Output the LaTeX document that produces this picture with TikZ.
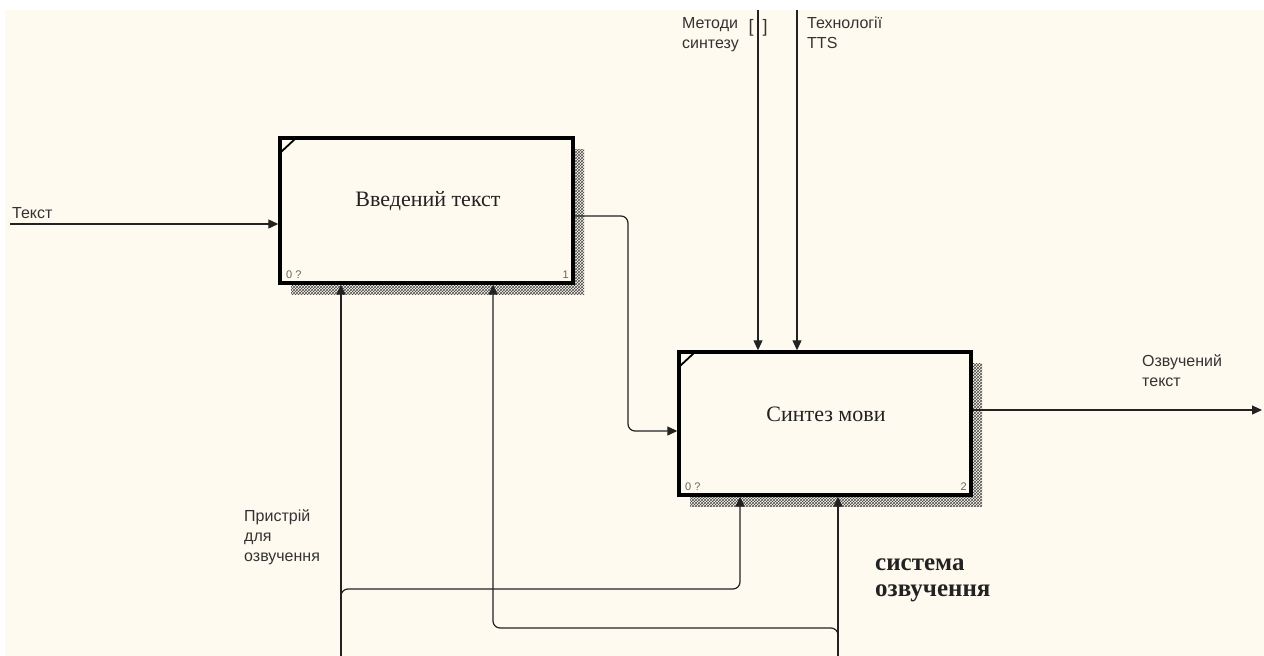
\documentclass[tikz,border=0pt]{standalone}
\usepackage{fontspec}
\setmainfont{Liberation Serif}
\setsansfont{Liberation Sans}
\usetikzlibrary{patterns,arrows.meta}
\definecolor{cream}{HTML}{FFFAEF}
\definecolor{ink}{HTML}{222222}
\begin{document}
\begin{tikzpicture}[x=1pt,y=-1pt,
  box/.style={draw=black, line width=3.4pt, fill=cream, inner sep=0pt},
  shadow/.style={pattern=crosshatch, pattern color=black!70},
  conn/.style={draw=ink, line width=1.2pt, rounded corners=7pt},
  arr/.style={-{Triangle[length=10pt,width=9pt]}},
  lbl/.style={font=\sffamily\fontsize{16}{20}\selectfont, text=black!80, align=left, inner sep=0pt, anchor=north west},
  title/.style={font=\fontsize{22}{24}\selectfont, text=ink, inner sep=0pt},
  num/.style={font=\sffamily\fontsize{11}{11}\selectfont, text=black!60, inner sep=0pt},
]
\useasboundingbox (0,0) rectangle (1264,656);
\fill[white] (0,0) rectangle (1264,656);
\fill[cream] (5,10) rectangle (1264,656);

% shadows
\fill[shadow] (291,149) rectangle (584,294);
\fill[shadow] (690,363) rectangle (982,506);

% boxes
\node[box, minimum width=293pt, minimum height=145pt] (b1) at (426.5,210.5) {};
\node[box, minimum width=292pt, minimum height=143pt] (b2) at (825,423.5) {};
\draw[line width=1.8pt] (281,152) -- (295,139);
\draw[line width=1.8pt] (680,366) -- (694,353);

\node[title] (t1) at (428,201) {Введений текст};
\node[title] (t2) at (826,414) {Синтез мови};
\node[num, anchor=south west] (n1a) at (286,279) {0 ?};
\node[num, anchor=south east] (n1b) at (569,279) {1};
\node[num, anchor=south west] (n2a) at (685,491) {0 ?};
\node[num, anchor=south east] (n2b) at (967,491) {2};

% input
\coordinate (inL) at (10,224);
\draw[conn,arr] (inL) -- (b1.west |- inL);
\node[lbl, anchor=south west] (lText) at (12,219) {Текст};

% b1 -> b2
\coordinate (j1) at (628,216);
\coordinate (j2) at (628,431);
\draw[conn,arr] (b1.east |- j1) -- (j1) -- (j2) -- (b2.west |- j2);

% controls
\coordinate (c1) at (758,10);
\coordinate (c2) at (797,10);
\draw[conn,arr] (c1) -- (c1 |- b2.north);
\draw[conn,arr] (c2) -- (c2 |- b2.north);
\node[lbl, anchor=north east] (lMet) at (739,17) {Методи\\синтезу};
\node[font=\sffamily\fontsize{18}{18}\selectfont, text=black!80, inner sep=0pt] (br) at (758,28) {[\hspace{9pt}]};
\node[lbl] (lTech) at (807,17) {Технології\\TTS};

% output
\coordinate (oR) at (1262,410);
\draw[conn,arr] (b2.east |- oR) -- (oR);
\node[lbl] (lOut) at (1142,354) {Озвучений\\текст};

% mechanisms
\coordinate (m1) at (341,656);
\coordinate (m2) at (838,656);
\draw[conn,arr] (m1) -- (m1 |- b1.south);
\coordinate (k1) at (341,603);
\coordinate (k2) at (740,589);
\draw[conn,arr] (k1) -- (k1 |- k2) -- (k2) -- (k2 |- b2.south);
\draw[conn,arr] (m2) -- (m2 |- b2.south);
\coordinate (k3) at (838,640);
\coordinate (k4) at (493,628);
\draw[conn,arr] (k3) -- (k3 |- k4) -- (k4) -- (k4 |- b1.south);

\node[lbl] (lDev) at (244,509) {Пристрій\\для\\озвучення};
\node[font=\bfseries\fontsize{25}{26}\selectfont, text=ink, align=left, inner sep=0pt, anchor=north west] (lSys) at (875,559) {система\\озвучення};
\end{tikzpicture}
\end{document}
